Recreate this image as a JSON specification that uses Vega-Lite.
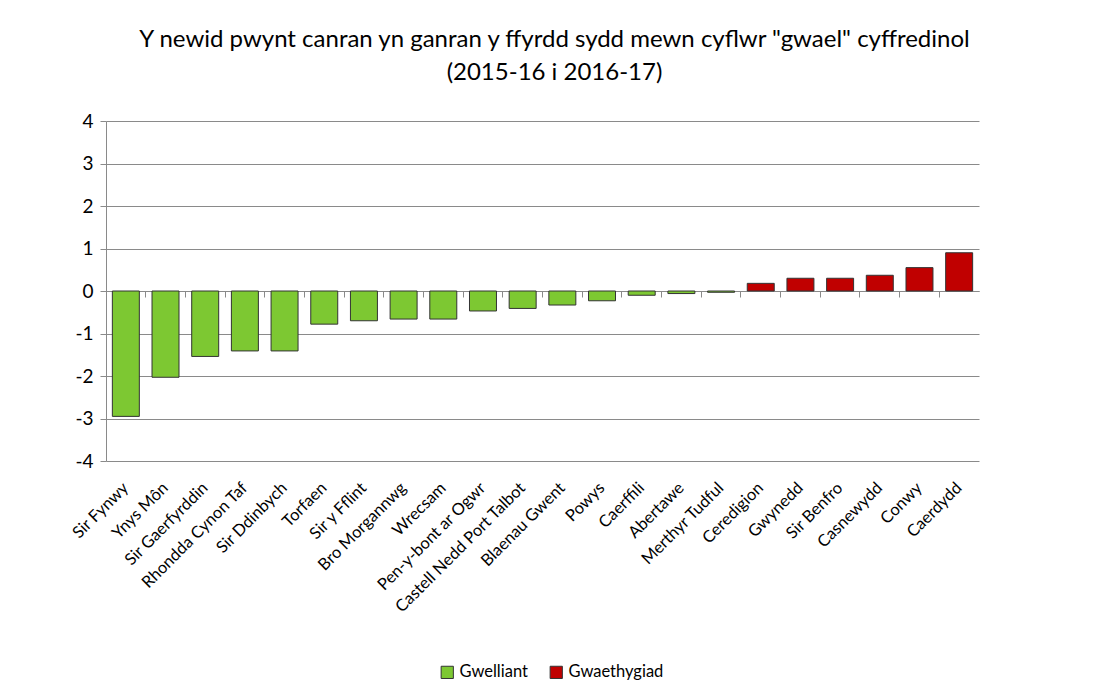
{
  "$schema": "https://vega.github.io/schema/vega-lite/v6.json",
  "width": 873,
  "height": 340,
  "autosize": "none",
  "padding": {"left": 106, "top": 121, "right": 122, "bottom": 238},
  "background": "white",
  "title": {
    "text": ["Y newid pwynt canran yn ganran y ffyrdd sydd mewn cyflwr \"gwael\" cyffredinol", "(2015-16 i 2016-17)"],
    "font": "Lato",
    "fontSize": 24,
    "fontWeight": "normal",
    "color": "#000000",
    "lineHeight": 33,
    "offset": 27,
    "anchor": "middle",
    "dx": 12
  },
  "config": {"view": {"stroke": null}, "font": "Lato"},
  "data": {
    "values": [
      {"area": "Sir Fynwy", "value": -2.95, "status": "Gwelliant"},
      {"area": "Ynys Môn", "value": -2.03, "status": "Gwelliant"},
      {"area": "Sir Gaerfyrddin", "value": -1.54, "status": "Gwelliant"},
      {"area": "Rhondda Cynon Taf", "value": -1.41, "status": "Gwelliant"},
      {"area": "Sir Ddinbych", "value": -1.41, "status": "Gwelliant"},
      {"area": "Torfaen", "value": -0.78, "status": "Gwelliant"},
      {"area": "Sir y Fflint", "value": -0.70, "status": "Gwelliant"},
      {"area": "Bro Morgannwg", "value": -0.66, "status": "Gwelliant"},
      {"area": "Wrecsam", "value": -0.66, "status": "Gwelliant"},
      {"area": "Pen-y-bont ar Ogwr", "value": -0.47, "status": "Gwelliant"},
      {"area": "Castell Nedd Port Talbot", "value": -0.41, "status": "Gwelliant"},
      {"area": "Blaenau Gwent", "value": -0.33, "status": "Gwelliant"},
      {"area": "Powys", "value": -0.23, "status": "Gwelliant"},
      {"area": "Caerffili", "value": -0.10, "status": "Gwelliant"},
      {"area": "Abertawe", "value": -0.06, "status": "Gwelliant"},
      {"area": "Merthyr Tudful", "value": -0.03, "status": "Gwelliant"},
      {"area": "Ceredigion", "value": 0.18, "status": "Gwaethygiad"},
      {"area": "Gwynedd", "value": 0.30, "status": "Gwaethygiad"},
      {"area": "Sir Benfro", "value": 0.30, "status": "Gwaethygiad"},
      {"area": "Casnewydd", "value": 0.37, "status": "Gwaethygiad"},
      {"area": "Conwy", "value": 0.55, "status": "Gwaethygiad"},
      {"area": "Caerdydd", "value": 0.90, "status": "Gwaethygiad"}
    ]
  },
  "resolve": {"axis": {"x": "independent"}},
  "layer": [
    {
      "mark": {"type": "bar", "stroke": "#333333", "strokeWidth": 1},
      "encoding": {
        "x": {
          "field": "area",
          "type": "nominal",
          "sort": null,
          "scale": {"paddingInner": 0.32, "paddingOuter": 0.16},
          "axis": {
            "title": null,
            "orient": "bottom",
            "labelAngle": -45,
            "labelAlign": "right",
            "labelBaseline": "middle",
            "labelFontSize": 16.5,
            "labelColor": "#000000",
            "labelPadding": 24,
            "labelLimit": 0,
            "domain": false,
            "ticks": false,
            "labelOverlap": false
          }
        },
        "y": {
          "field": "value",
          "type": "quantitative",
          "scale": {"domain": [-4, 4], "nice": false},
          "axis": {
            "title": null,
            "values": [-4, -3, -2, -1, 0, 1, 2, 3, 4],
            "labelExpr": "'' + datum.value",
            "grid": true,
            "gridColor": "#8a8a8a",
            "gridWidth": 1,
            "domain": true,
            "domainColor": "#8a8a8a",
            "ticks": true,
            "tickColor": "#8a8a8a",
            "tickSize": 6,
            "labelFontSize": 19,
            "labelColor": "#000000",
            "labelPadding": 7
          }
        },
        "color": {
          "field": "status",
          "type": "nominal",
          "scale": {"domain": ["Gwelliant", "Gwaethygiad"], "range": ["#7dc832", "#c00000"]},
          "legend": {
            "title": null,
            "orient": "none",
            "legendX": 333,
            "legendY": 543,
            "direction": "horizontal",
            "symbolType": "square",
            "symbolSize": 150,
            "symbolStrokeColor": "#333333",
            "symbolStrokeWidth": 1,
            "labelFontSize": 16.5,
            "labelColor": "#000000",
            "labelOffset": 4,
            "columnPadding": 20
          }
        }
      }
    },
    {
      "mark": {"type": "bar", "opacity": 0},
      "encoding": {
        "x": {
          "field": "area",
          "type": "nominal",
          "sort": null,
          "axis": {
            "title": null,
            "orient": "bottom",
            "offset": -170,
            "labels": false,
            "domain": true,
            "domainColor": "#8a8a8a",
            "ticks": true,
            "tickColor": "#8a8a8a",
            "tickSize": 6,
            "bandPosition": -0.235
          }
        },
        "y": {"field": "value", "type": "quantitative"}
      }
    }
  ]
}
